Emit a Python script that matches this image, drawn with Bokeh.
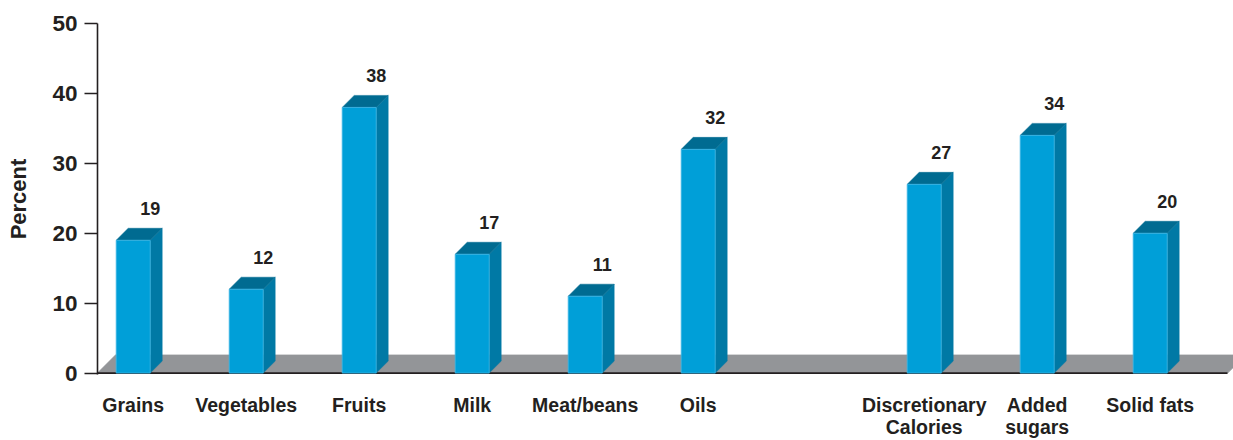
from bokeh.plotting import figure
from bokeh.models import ColumnDataSource, FixedTicker, Range1d
from bokeh.core.properties import value
from bokeh.embed import file_html
from bokeh.resources import INLINE

# ---- data ----
food_groups = ["Grains", "Vegetables", "Fruits", "Milk", "Meat/beans", "Oils"]
food_values = [19, 12, 38, 17, 11, 32]
disc_groups = ["Discretionary\nCalories", "Added\nsugars", "Solid fats"]
disc_values = [27, 34, 20]
y_ticks = [0, 10, 20, 30, 40, 50]
y_label = "Percent"

# ---- styles ----
FONT = "Liberation Sans"
TXT = "#231f20"
FRONT = "#009fd8"
SIDE = "#0079a5"
TOP = "#006b91"
FLOOR = "#939598"

categories = food_groups + disc_groups
values = food_values + disc_values
positions = list(range(len(food_groups))) + [len(food_groups) + 1 + i for i in range(len(disc_groups))]

px_per_x = 113.0
px_per_y = 7.0
half_w = 17 / px_per_x
bdx, bdy = 12 / px_per_x, 12 / px_per_y   # bar depth
fdx, fdy = 18 / px_per_x, 18 / px_per_y   # floor depth

x_start = positions[0] - 35.7 / px_per_x
x_end = x_start + 1136 / px_per_x
floor_end = x_start + 1130 / px_per_x

p = figure(width=1233, height=440, output_backend="svg", toolbar_location=None,
           x_range=Range1d(x_start, x_end), y_range=Range1d(-0.2, 50),
           min_border_left=97, min_border_right=0, min_border_top=23, min_border_bottom=66)
p.outline_line_color = None
p.grid.visible = False
p.background_fill_color = "white"
p.border_fill_color = "white"

# floor
p.patch([x_start, floor_end, floor_end + fdx, x_start + fdx], [0, 0, fdy, fdy],
        fill_color=FLOOR, line_color=FLOOR)
# baseline
p.segment(x0=[x_start], y0=[0], x1=[floor_end], y1=[0], line_color=TXT, line_width=1.6)

left = [x - half_w for x in positions]
right = [x + half_w for x in positions]

top_xs = [[l, r, r + bdx, l + bdx] for l, r in zip(left, right)]
top_ys = [[v, v, v + bdy, v + bdy] for v in values]
side_xs = [[r, r + bdx, r + bdx, r] for r in right]
side_ys = [[0, bdy, v + bdy, v] for v in values]

p.patches(side_xs, side_ys, fill_color=SIDE, line_color=SIDE, line_width=0.5)
p.patches(top_xs, top_ys, fill_color=TOP, line_color=TOP, line_width=0.5)
src = ColumnDataSource(dict(x=positions, left=left, right=right, v=values,
                            lab=[str(v) for v in values],
                            zero=[0] * len(values)))
p.quad(left="left", right="right", bottom="zero", top="v", source=src,
       fill_color=FRONT, line_color="#3fb6e6", line_width=0.8)

# value labels
p.text(x="x", y="v", text="lab", source=src, x_offset=17, y_offset=-32,
       text_font=value(FONT), text_font_style="bold", text_font_size="18px",
       text_color=TXT, text_align="center", text_baseline="middle")

# category labels via x axis
xa = p.xaxis[0]
xa.ticker = FixedTicker(ticks=positions)
xa.major_label_overrides = {pos: cat for pos, cat in zip(positions, categories)}
xa.axis_line_color = None
xa.major_tick_line_color = None
xa.minor_tick_line_color = None
xa.major_tick_in = 0
xa.major_tick_out = 0
xa.major_label_standoff = 19
xa.major_label_text_font = FONT
xa.major_label_text_font_style = "bold"
xa.major_label_text_font_size = "19.5px"
xa.major_label_text_color = TXT
xa.major_label_text_line_height = 1.0

ya = p.yaxis[0]
ya.ticker = FixedTicker(ticks=y_ticks)
ya.axis_label = y_label
ya.axis_label_text_font = FONT
ya.axis_label_text_font_style = "bold"
ya.axis_label_text_font_size = "22px"
ya.axis_label_text_color = TXT
ya.axis_label_standoff = 18
ya.major_label_text_font = FONT
ya.major_label_text_font_style = "bold"
ya.major_label_text_font_size = "22.5px"
ya.major_label_text_color = TXT
ya.major_label_standoff = 7
ya.major_tick_out = 13
ya.major_tick_in = 0
ya.minor_tick_line_color = None
ya.axis_line_color = TXT
ya.axis_line_width = 1.6
ya.major_tick_line_color = TXT
ya.major_tick_line_width = 1.6

open("out.html", "w").write(file_html(p, INLINE))
